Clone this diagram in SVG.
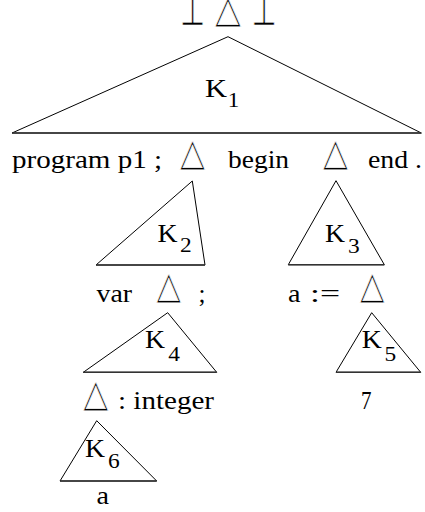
<svg xmlns="http://www.w3.org/2000/svg" width="425" height="512" viewBox="0 0 425 512">
<style>
.t{font-family:'Liberation Serif','Times New Roman',serif;font-size:25px;fill:#000}
.s{font-family:'Liberation Serif','Times New Roman',serif;font-size:20px;fill:#000}
.sym{font-family:'DejaVu Sans',sans-serif;font-size:38px;fill:#000;stroke:#fff;stroke-width:0.7}
.bot{font-family:'DejaVu Sans',sans-serif;font-size:38px;fill:#000;stroke:#fff;stroke-width:0.6}
.tri{fill:none;stroke:#000;stroke-width:1}
.base{stroke:#333;stroke-width:1.6}
</style>
<rect width="425" height="512" fill="#fff"/>
<g id="root">
<text class="bot" transform="scale(1,1.158)" x="180" y="21.59" textLength="25" lengthAdjust="spacingAndGlyphs">⊥</text>
<text class="sym" x="215" y="21.5" textLength="26" lengthAdjust="spacingAndGlyphs">△</text>
<text class="bot" transform="scale(1,1.158)" x="251.5" y="21.59" textLength="25" lengthAdjust="spacingAndGlyphs">⊥</text>
</g>
<g id="K1">
<polygon class="tri" points="228,36.7 12,133 421.3,133"/>
<line class="base" x1="12" y1="133" x2="421.3" y2="133"/>
<text class="t" x="205" y="96.7" textLength="22" lengthAdjust="spacingAndGlyphs">K</text>
<text class="s" x="227.8" y="107.3" textLength="11.5" lengthAdjust="spacingAndGlyphs">1</text>
</g>
<g id="row1">
<text class="t" x="12" y="168" textLength="150" lengthAdjust="spacingAndGlyphs">program p1 ;</text>
<text class="sym" x="180" y="164.8" textLength="25" lengthAdjust="spacingAndGlyphs">△</text>
<text class="t" x="228" y="168" textLength="61" lengthAdjust="spacingAndGlyphs">begin</text>
<text class="sym" x="323" y="164.8" textLength="25" lengthAdjust="spacingAndGlyphs">△</text>
<text class="t" x="368" y="168" textLength="54" lengthAdjust="spacingAndGlyphs">end .</text>
</g>
<g id="K2">
<polygon class="tri" points="192.3,181 96,265 205,265"/>
<line class="base" x1="96" y1="265" x2="205" y2="265"/>
<text class="t" x="157.5" y="241.7" textLength="20" lengthAdjust="spacingAndGlyphs">K</text>
<text class="s" x="180" y="251.7" textLength="11.7" lengthAdjust="spacingAndGlyphs">2</text>
</g>
<g id="K3">
<polygon class="tri" points="336,180.7 288.3,264.7 384.3,264.7"/>
<line class="base" x1="288.3" y1="264.7" x2="384.3" y2="264.7"/>
<text class="t" x="325" y="241.7" textLength="20" lengthAdjust="spacingAndGlyphs">K</text>
<text class="s" x="348" y="252.5" textLength="11.7" lengthAdjust="spacingAndGlyphs">3</text>
</g>
<g id="row2">
<text class="t" x="96.5" y="301.5" textLength="35.5" lengthAdjust="spacingAndGlyphs">var</text>
<text class="sym" x="156.5" y="298.3" textLength="24.5" lengthAdjust="spacingAndGlyphs">△</text>
<text class="t" x="198.5" y="301.5" textLength="7" lengthAdjust="spacingAndGlyphs">;</text>
<text class="t" x="288" y="301.5" textLength="12.5" lengthAdjust="spacingAndGlyphs">a</text>
<text class="t" x="310" y="301.5" textLength="30" lengthAdjust="spacingAndGlyphs">:=</text>
<text class="sym" x="360" y="298.3" textLength="24.5" lengthAdjust="spacingAndGlyphs">△</text>
</g>
<g id="K4">
<polygon class="tri" points="167.7,312.7 83.3,372.3 216.7,372.3"/>
<line class="base" x1="83.3" y1="372.3" x2="216.7" y2="372.3"/>
<text class="t" x="145" y="348.3" textLength="20" lengthAdjust="spacingAndGlyphs">K</text>
<text class="s" x="168.3" y="360.7" textLength="11.7" lengthAdjust="spacingAndGlyphs">4</text>
</g>
<g id="K5">
<polygon class="tri" points="371.7,312.7 336,372.3 420.7,372.3"/>
<line class="base" x1="336" y1="372.3" x2="420.7" y2="372.3"/>
<text class="t" x="361.7" y="348" textLength="20" lengthAdjust="spacingAndGlyphs">K</text>
<text class="s" x="384.6" y="361" textLength="11.7" lengthAdjust="spacingAndGlyphs">5</text>
</g>
<g id="row3">
<text class="sym" x="83.3" y="405.8" textLength="25" lengthAdjust="spacingAndGlyphs">△</text>
<text class="t" x="118" y="409.3" textLength="96" lengthAdjust="spacingAndGlyphs">: integer</text>
<text class="t" x="361" y="409.3" textLength="10.5" lengthAdjust="spacingAndGlyphs">7</text>
</g>
<g id="K6">
<polygon class="tri" points="96.7,420.7 60,481 156.7,481"/>
<line class="base" x1="60" y1="481" x2="156.7" y2="481"/>
<text class="t" x="85" y="456.7" textLength="20" lengthAdjust="spacingAndGlyphs">K</text>
<text class="s" x="108" y="468.3" textLength="11.7" lengthAdjust="spacingAndGlyphs">6</text>
</g>
<g id="row4">
<text class="t" x="96.5" y="504" textLength="12.5" lengthAdjust="spacingAndGlyphs">a</text>
</g>
</svg>
